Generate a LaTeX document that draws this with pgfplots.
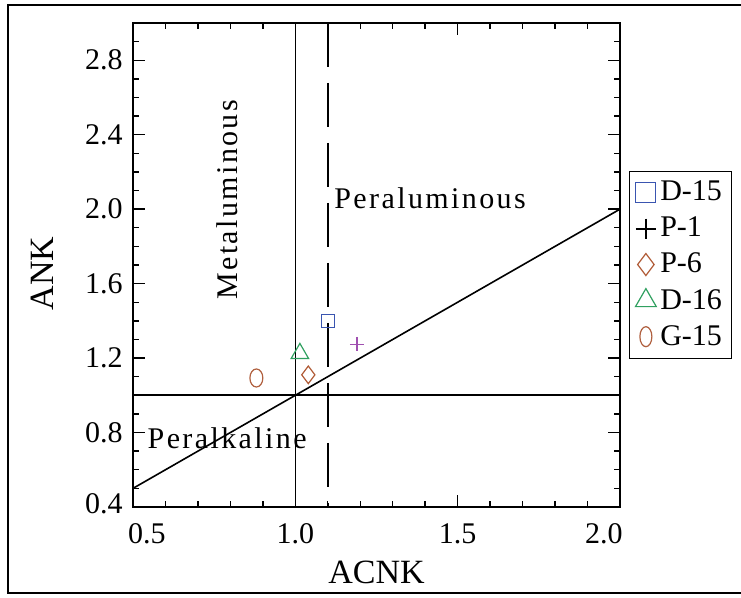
\documentclass[border=0pt]{standalone}
\usepackage{pgfplots}
\pgfplotsset{compat=1.18}
\usepackage{fontspec}
\setmainfont{Liberation Serif}
\definecolor{cblue}{HTML}{3A55B0}
\definecolor{cpurple}{HTML}{A050B0}
\definecolor{cbrown}{HTML}{B05A35}
\definecolor{cgreen}{HTML}{30A060}
\definecolor{corange}{HTML}{B0603F}
\begin{document}
\begin{tikzpicture}
\useasboundingbox (0,0) rectangle (370.5pt,299pt);
\draw[line width=1.3pt] (4pt,2.5pt) rectangle (380pt,296.5pt);
\begin{axis}[
  at={(66.5pt,45.5pt)}, anchor=south west,
  scale only axis, width=243.5pt, height=242pt,
  xmin=0.5, xmax=2.0, ymin=0.4, ymax=3.0,
  xtick={0.5,1.0,1.5,2.0},
  xticklabels={\makebox[0pt]{\hspace{14pt}0.5},1.0,1.5,\makebox[0pt]{2.0\hspace{16pt}}},
  ytick={0.4,0.8,1.2,1.6,2.0,2.4,2.8},
  yticklabels={\raisebox{3.5pt}{0.4},0.8,1.2,1.6,2.0,2.4,2.8},
  minor x tick num=4, minor y tick num=3,
  major tick length=6pt, minor tick length=3.2pt,
  every tick/.style={draw=black, line width=0.7pt},
  axis line style={line width=1.1pt},
  ticklabel style={font=\fontsize{15pt}{17pt}\selectfont},
  yticklabel style={inner sep=0pt, xshift=-5pt},
  xticklabel style={inner sep=0pt, yshift=-8pt},
  xlabel={ACNK}, ylabel={ANK},
  label style={font=\fontsize{17pt}{19pt}\selectfont},
  xlabel style={at={(axis description cs:0.5,-0.136)}, anchor=center},
  ylabel style={at={(axis description cs:-0.187,0.482)}, anchor=center},
  legend style={at={(axis description cs:1.0185,0.695)}, anchor=north west,
    draw=black, line width=0.5pt, font=\fontsize{15pt}{17pt}\selectfont,
    row sep=2.6pt, inner xsep=3pt, inner ysep=3pt,
    /tikz/every even column/.append style={column sep=0pt}},
  legend cell align=left,
]
% tick marks (drawn explicitly along the frame)
\pgfplotsinvokeforeach{0.5,1.0,1.5,2.0}{
  \draw[black, line width=0.7pt] (axis cs:#1,0.4) -- ([yshift=6pt]axis cs:#1,0.4);
  \draw[black, line width=0.7pt] (axis cs:#1,3.0) -- ([yshift=-6pt]axis cs:#1,3.0);
}
\pgfplotsinvokeforeach{0.6,0.7,0.8,0.9,1.1,1.2,1.3,1.4,1.6,1.7,1.8,1.9}{
  \draw[black, line width=0.7pt] (axis cs:#1,0.4) -- ([yshift=3.2pt]axis cs:#1,0.4);
  \draw[black, line width=0.7pt] (axis cs:#1,3.0) -- ([yshift=-3.2pt]axis cs:#1,3.0);
}
\pgfplotsinvokeforeach{0.4,0.8,1.2,1.6,2.0,2.4,2.8}{
  \draw[black, line width=0.7pt] (axis cs:0.5,#1) -- ([xshift=6pt]axis cs:0.5,#1);
  \draw[black, line width=0.7pt] (axis cs:2.0,#1) -- ([xshift=-6pt]axis cs:2.0,#1);
}
\pgfplotsinvokeforeach{0.5,0.6,0.7,0.9,1.0,1.1,1.3,1.4,1.5,1.7,1.8,1.9,2.1,2.2,2.3,2.5,2.6,2.7,2.9}{
  \draw[black, line width=0.7pt] (axis cs:0.5,#1) -- ([xshift=3.2pt]axis cs:0.5,#1);
  \draw[black, line width=0.7pt] (axis cs:2.0,#1) -- ([xshift=-3.2pt]axis cs:2.0,#1);
}
% reference lines
\addplot[black, line width=0.8pt, forget plot] coordinates {(1.0,0.4) (1.0,3.0)};
\addplot[black, line width=0.8pt, forget plot] coordinates {(0.5,1.0) (2.0,1.0)};
\addplot[black, line width=0.8pt, dash pattern=on 22pt off 8pt, forget plot] coordinates {(1.1,3.0) (1.1,0.4)};
\addplot[black, line width=0.8pt, forget plot] coordinates {(0.5,0.5) (2.0,2.0)};
% data
\addplot[only marks, mark=square, mark size=3.3pt, draw=cblue, mark options={draw=cblue, line width=0.6pt, fill=white}, forget plot] coordinates {(1.10,1.40)};
\addplot[only marks, mark=+, mark size=3.6pt, draw=cpurple, mark options={draw=cpurple, line width=0.6pt}, forget plot] coordinates {(1.19,1.275)};
\addplot[only marks, mark=diamond, mark size=4.4pt, draw=cbrown, mark options={draw=cbrown, line width=0.6pt}, forget plot] coordinates {(1.04,1.11)};
\addplot[only marks, mark=triangle, mark size=5pt, draw=cgreen, mark options={draw=cgreen, line width=0.6pt}, forget plot] coordinates {(1.014,1.225)};
\addplot[only marks, mark=o, mark size=4.5pt, draw=corange, mark options={draw=corange, line width=0.6pt, xscale=0.72}, forget plot] coordinates {(0.88,1.093)};
% legend
\addlegendimage{only marks, mark=square, mark size=5pt, draw=cblue, mark options={draw=cblue, line width=0.6pt}}
\addlegendentry{D-15}
\addlegendimage{only marks, mark=+, mark size=5pt, draw=black, mark options={draw=black, line width=1pt}}
\addlegendentry{P-1}
\addlegendimage{only marks, mark=diamond, mark size=5.5pt, draw=cbrown, mark options={draw=cbrown, line width=0.6pt}}
\addlegendentry{P-6}
\addlegendimage{only marks, mark=triangle, mark size=6pt, draw=cgreen, mark options={draw=cgreen, line width=0.6pt}}
\addlegendentry{D-16}
\addlegendimage{only marks, mark=o, mark size=5pt, draw=corange, mark options={draw=corange, line width=0.6pt, xscale=0.6}}
\addlegendentry{G-15}
% texts
\node[rotate=90, font=\fontsize{15pt}{18pt}\selectfont\addfontfeature{LetterSpace=8}] at (axis cs:0.79,2.05) {Metaluminous};
\node[font=\fontsize{15pt}{18pt}\selectfont\addfontfeature{LetterSpace=8}] at (axis cs:1.415,2.06) {Peraluminous};
\node[font=\fontsize{15pt}{18pt}\selectfont\addfontfeature{LetterSpace=8}] at (axis cs:0.79,0.77) {Peralkaline};
\end{axis}
\end{tikzpicture}
\end{document}
